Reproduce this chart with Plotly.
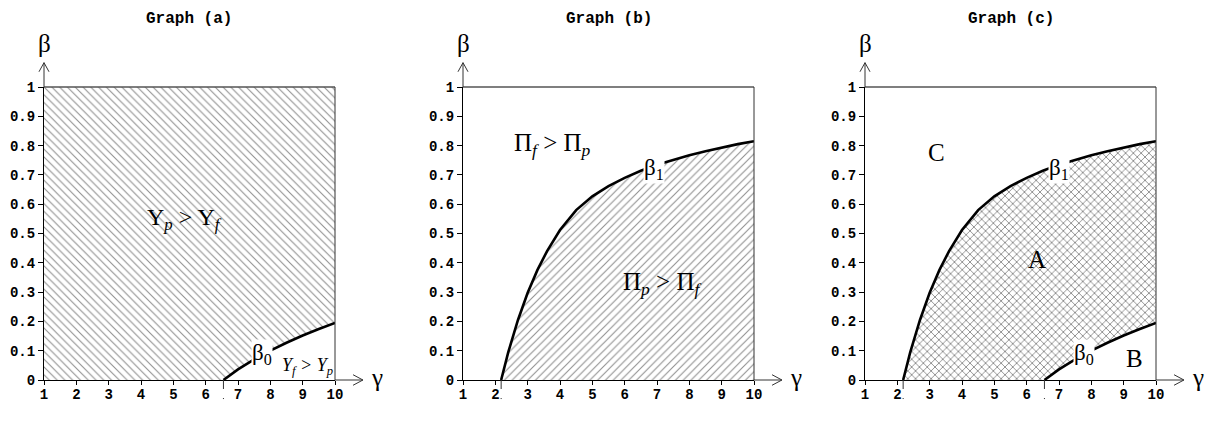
import plotly.graph_objects as go

# boundary curves
gamma0 = 6.55
gamma1 = 2.18
beta0_g = [6.55, 7.0, 7.5, 8.0, 8.5, 9.0, 9.5, 10.0]
beta0_v = [0.0, 0.036, 0.070, 0.100, 0.127, 0.152, 0.174, 0.195]
beta1_g = [2.18, 2.4, 2.7, 3.0, 3.3, 3.6, 4.0, 4.5, 5.0, 5.5, 6.0, 6.5, 7.0, 7.5, 8.0, 8.5, 9.0, 9.5, 10.0]
beta1_v = [0.0, 0.095, 0.205, 0.298, 0.375, 0.44, 0.512, 0.58, 0.627, 0.662, 0.69, 0.714, 0.735,
           0.752, 0.767, 0.781, 0.794, 0.805, 0.815]

x_ticks = [1, 2, 3, 4, 5, 6, 7, 8, 9, 10]
y_ticks = [0, 0.1, 0.2, 0.3, 0.4, 0.5, 0.6, 0.7, 0.8, 0.9, 1]
y_ticktext = ['0', '0.1', '0.2', '0.3', '0.4', '0.5', '0.6', '0.7', '0.8', '0.9', '1']
titles = ['Graph (a)', 'Graph (b)', 'Graph (c)']

W, H = 1216, 431
OFF = 8  # the page body margin shifts the figure by this much
panel_px = [(44 - OFF, 335 - OFF), (463 - OFF, 754 - OFF), (865 - OFF, 1156 - OFF)]
y_px = (87 - OFF, 380 - OFF)

serif = 'Liberation Serif'
mono = 'Liberation Mono'
hatch = dict(fgcolor='#222', bgcolor='white', size=5.5, solidity=0.2)
curve = dict(color='black', width=2.6)

fig = go.Figure()

# (a) Yp > Yf region above beta0
fig.add_trace(go.Scatter(
    x=[1] + beta0_g + [10, 1], y=[0] + beta0_v + [1, 1],
    fill='toself', mode='lines', line=dict(width=0),
    fillpattern=dict(shape='\\', **hatch), xaxis='x', yaxis='y'))
fig.add_trace(go.Scatter(x=beta0_g, y=beta0_v, mode='lines', line=curve, xaxis='x', yaxis='y'))

# (b) region below beta1
fig.add_trace(go.Scatter(
    x=beta1_g + [10, gamma1], y=beta1_v + [0, 0],
    fill='toself', mode='lines', line=dict(width=0),
    fillpattern=dict(shape='/', **hatch), xaxis='x2', yaxis='y2'))
fig.add_trace(go.Scatter(x=beta1_g, y=beta1_v, mode='lines', line=curve, xaxis='x2', yaxis='y2'))

# (c) region between beta1 and beta0, cross hatched
fig.add_trace(go.Scatter(
    x=beta1_g + beta0_g[::-1], y=beta1_v + beta0_v[::-1],
    fill='toself', mode='lines', line=dict(width=0),
    fillpattern=dict(shape='x', fgcolor='#222', bgcolor='white', size=5.5, solidity=0.32),
    xaxis='x3', yaxis='y3'))
fig.add_trace(go.Scatter(x=beta1_g, y=beta1_v, mode='lines', line=curve, xaxis='x3', yaxis='y3'))
fig.add_trace(go.Scatter(x=beta0_g, y=beta0_v, mode='lines', line=curve, xaxis='x3', yaxis='y3'))

tickfont = dict(family=mono, size=14, color='black', weight='bold')
shapes = []
annotations = []
ydom = [1 - y_px[1] / H, 1 - y_px[0] / H]

for i, (l, r) in enumerate(panel_px):
    n = '' if i == 0 else str(i + 1)
    fig.layout['xaxis' + n] = dict(
        domain=[l / W, r / W], range=[1, 10], anchor='y' + n, automargin=False,
        tickvals=x_ticks, ticks='outside', ticklen=4, tickcolor='black', ticklabelstandoff=-3,
        showline=True, linecolor='black', linewidth=1,
        showgrid=False, zeroline=False, tickfont=tickfont, fixedrange=True)
    fig.layout['yaxis' + n] = dict(
        domain=ydom, range=[0, 1], anchor='x' + n, automargin=False,
        tickvals=y_ticks, ticktext=y_ticktext, ticks='outside', ticklen=5, tickcolor='black',
        showline=True, linecolor='black', linewidth=1,
        showgrid=False, zeroline=False, tickfont=tickfont, fixedrange=True)
    xd, yd = 'x%s domain' % n, 'y%s domain' % n
    # frame, axis extensions and arrow heads
    shapes += [
        dict(type='line', xref=xd, yref=yd, x0=0, x1=1, y0=1, y1=1, line=dict(color='#555', width=1.5)),
        dict(type='line', xref=xd, yref=yd, x0=1, x1=1, y0=0, y1=1, line=dict(color='#333', width=1)),
        dict(type='line', xref=xd, yref=yd, x0=0, x1=0, y0=1, y1=1.083, line=dict(color='#333', width=1)),
        dict(type='path', xref=xd, yref=yd, path='M -0.0172,1.052 L 0,1.083 L 0.0172,1.052',
             line=dict(color='#333', width=1)),
        dict(type='line', xref=xd, yref=yd, x0=1, x1=1.096, y0=0, y1=0, line=dict(color='#333', width=1)),
        dict(type='path', xref=xd, yref=yd, path='M 1.062,0.018 L 1.096,0 L 1.062,-0.018',
             line=dict(color='#333', width=1)),
    ]
    annotations += [
        dict(xref=xd, yref='paper', x=0.5, y=1 - 11 / H, text=titles[i], showarrow=False,
             xanchor='center', yanchor='middle', borderpad=0,
             font=dict(family=mono, size=16, color='black', weight='bold')),
        dict(xref=xd, yref=yd, x=0, y=1.147, text='β', showarrow=False,
             xanchor='center', yanchor='middle',
             font=dict(family=serif, size=25, color='black')),
        dict(xref=xd, yref=yd, x=1.143, y=0.01, text='γ', showarrow=False,
             xanchor='center', yanchor='middle',
             font=dict(family=serif, size=25, color='black')),
    ]


def gamma_mark(g, sub, n):
    shapes.append(dict(type='line', xref='x' + n, yref='y%s domain' % n, x0=g, x1=g, y0=0, y1=-0.065,
                       line=dict(color='#333', width=1, dash='dash')))
    annotations.append(dict(xref='x' + n, yref='y' + n, x=g, y=-0.115, xshift=3,
                            text='γ<sub>%s</sub>' % sub, showarrow=False,
                            xanchor='center', yanchor='middle',
                            font=dict(family=serif, size=23, color='black')))


def label(n, x, y, text, size=20, bg=None):
    a = dict(xref='x' + n, yref='y' + n, x=x, y=y, text=text, showarrow=False,
             xanchor='center', yanchor='middle',
             font=dict(family=serif, size=size, color='black'))
    if bg:
        a.update(bgcolor=bg, borderpad=0)
    annotations.append(a)


gamma_mark(gamma0, '0', '')
gamma_mark(gamma1, '1', '2')
gamma_mark(gamma1, '1', '3')
gamma_mark(gamma0, '0', '3')

label('', 5.36, 0.55, 'Y<sub><i>p</i></sub> > Y<sub><i>f</i></sub>', 24)
label('', 9.15, 0.045, '<i>Y<sub>f</sub> > Y<sub>p</sub></i>', 18)
label('', 7.74, 0.088, 'β<sub>0</sub>', 23, 'white')

label('2', 3.78, 0.805, 'Π<sub><i>f</i></sub> > Π<sub><i>p</i></sub>', 25)
label('2', 7.16, 0.33, 'Π<sub><i>p</i></sub> > Π<sub><i>f</i></sub>', 25)
label('2', 6.91, 0.72, 'β<sub>1</sub>', 23, 'white')

label('3', 3.2, 0.776, 'C', 25)
label('3', 6.32, 0.41, 'A', 25)
label('3', 9.35, 0.075, 'B', 25)
label('3', 6.99, 0.72, 'β<sub>1</sub>', 23, 'white')
label('3', 7.77, 0.088, 'β<sub>0</sub>', 23, 'white')

fig.update_layout(
    width=W, height=H, margin=dict(l=0, r=0, t=0, b=0, autoexpand=False),
    paper_bgcolor='white', plot_bgcolor='white', showlegend=False,
    shapes=shapes, annotations=annotations)

fig.write_html("out.html")
